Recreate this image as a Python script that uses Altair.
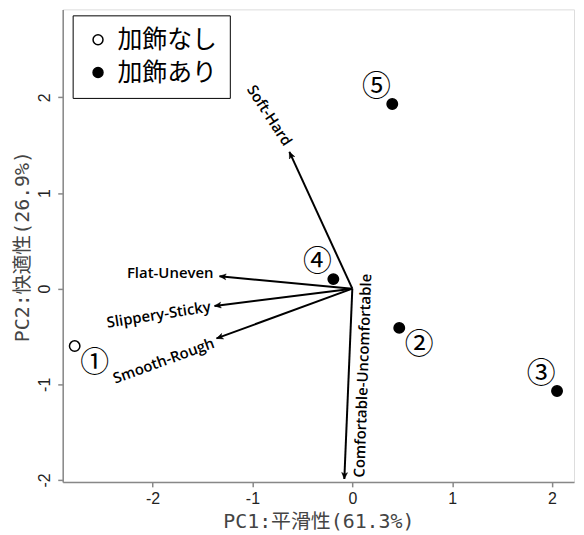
import math
import altair as alt
import pandas as pd

# sample scores
sample_id = ["①", "②", "③", "④", "⑤"]
pc1 = [-2.78, 0.47, 2.05, -0.19, 0.40]
pc2 = [-0.60, -0.41, -1.07, 0.10, 1.93]
group = ["加飾なし", "加飾あり", "加飾あり", "加飾あり", "加飾あり"]

# loadings (arrow tips)
var_names = ["Soft-Hard", "Flat-Uneven", "Slippery-Sticky", "Smooth-Rough", "Comfortable-Uncomfortable"]
load_x = [-0.63, -1.33, -1.38, -1.36, -0.08]
load_y = [1.43, 0.13, -0.18, -0.52, -1.99]

groups = ["加飾なし", "加飾あり"]
ticks = [-2, -1, 0, 1, 2]

XD = [-2.9, 2.22]
YD = [-2.02, 2.92]
W, H = 514, 475
sx = W / (XD[1] - XD[0])
sy = H / (YD[1] - YD[0])

pts = pd.DataFrame({"id": sample_id, "pc1": pc1, "pc2": pc2, "group": group})
arr = pd.DataFrame({"var": var_names, "x": load_x, "y": load_y})
arr["x0"] = 0.0
arr["y0"] = 0.0
arr["ang"] = [math.degrees(math.atan2(a * sx, b * sy)) % 360 for a, b in zip(load_x, load_y)]

xs = alt.Scale(domain=XD, nice=False, zero=False)
ys = alt.Scale(domain=YD, nice=False, zero=False)

TITLE_FONT = "DejaVu Sans Mono, Noto Sans CJK JP"

axis_common = dict(
    values=ticks, labelExpr="'' + datum.value", grid=False, domainColor="#888888", domainWidth=1.5,
    tickColor="#888888", tickWidth=1.5, tickSize=5,
    labelFont="Liberation Sans", labelFontSize=16, labelColor="#222222",
    titleFont=TITLE_FONT, titleFontSize=20, titleColor="#444444",
    titleFontWeight="normal",
)

X = alt.X("x:Q", scale=xs, axis=alt.Axis(title="PC1:平滑性(61.3%)", labelPadding=4, titlePadding=5, **axis_common))
Y = alt.Y("y:Q", scale=ys, axis=alt.Axis(title="PC2:快適性(26.9%)", labelAngle=270, labelAlign="center",
                                         labelBaseline="bottom", labelPadding=5, titleX=-40, titleY=238,
                                         titleBaseline="middle", titleAlign="center", titleAngle=270,
                                         **axis_common))

lines = alt.Chart(arr).mark_rule(color="black", strokeWidth=2).encode(
    x=X, y=Y, x2="x0:Q", y2="y0:Q"
)

heads = alt.Chart(arr).mark_point(
    shape="M0,0L0.45,1L0,0.75L-0.45,1Z", filled=True, fill="black", stroke="black",
    strokeWidth=0.5, size=170, opacity=1
).encode(
    x=alt.X("x:Q", scale=xs), y=alt.Y("y:Q", scale=ys), angle=alt.Angle("ang:Q", scale=None)
)

def lab(name, angle, align, dx, dy):
    return alt.Chart(arr).transform_filter(alt.datum.var == name).mark_text(
        font="Open Sans", fontSize=15, fontWeight=600, color="black",
        angle=angle, align=align, baseline="middle", dx=dx, dy=dy
    ).encode(x=alt.X("x:Q", scale=xs), y=alt.Y("y:Q", scale=ys), text="var:N")

labels = [
    lab("Soft-Hard", 57, "right", -7, -3),
    lab("Flat-Uneven", 0, "right", -6, -3),
    lab("Slippery-Sticky", 351, "right", -4, 0),
    lab("Smooth-Rough", 340, "right", -4, 3),
    lab("Comfortable-Uncomfortable", 272, "left", 2, 15),
]

points = alt.Chart(pts).mark_point(
    filled=True, stroke="black", strokeWidth=1.5, size=110, opacity=1
).encode(
    x=alt.X("pc1:Q", scale=xs), y=alt.Y("pc2:Q", scale=ys),
    fill=alt.Fill("group:N", scale=alt.Scale(domain=groups, range=["white", "black"]),
                  legend=alt.Legend(
                      title=None, orient="none", legendX=10, legendY=6,
                      strokeColor="black", fillColor="white", padding=12,
                      labelFont="Noto Sans CJK JP", labelFontSize=25, labelColor="black",
                      symbolType="circle", symbolSize=100, symbolStrokeColor="black",
                      symbolStrokeWidth=1.5, labelOffset=7, rowPadding=7,
                      labelLimit=400, symbolOffset=1,
                  )),
)

ul = alt.Chart(pts).transform_filter(
    alt.FieldOneOfPredicate(field="id", oneOf=["③", "④", "⑤"])
).mark_text(font="Noto Sans CJK JP", fontSize=29, color="black", dx=-16, dy=-17).encode(
    x=alt.X("pc1:Q", scale=xs), y=alt.Y("pc2:Q", scale=ys), text="id:N"
)
lr = alt.Chart(pts).transform_filter(
    alt.FieldOneOfPredicate(field="id", oneOf=["①", "②"])
).mark_text(font="Noto Sans CJK JP", fontSize=29, color="black", dx=20, dy=17).encode(
    x=alt.X("pc1:Q", scale=xs), y=alt.Y("pc2:Q", scale=ys), text="id:N"
)

chart = alt.layer(lines, heads, *labels, points, ul, lr).properties(
    width=W, height=H,
    autosize=alt.AutoSizeParams(type="none"),
    padding={"left": 55, "top": 0, "right": 2, "bottom": 50},
).configure_view(stroke="#888888", strokeWidth=1.5).configure(background="white")

chart.save("out.html", embed_options={"renderer": "svg", "actions": False})
